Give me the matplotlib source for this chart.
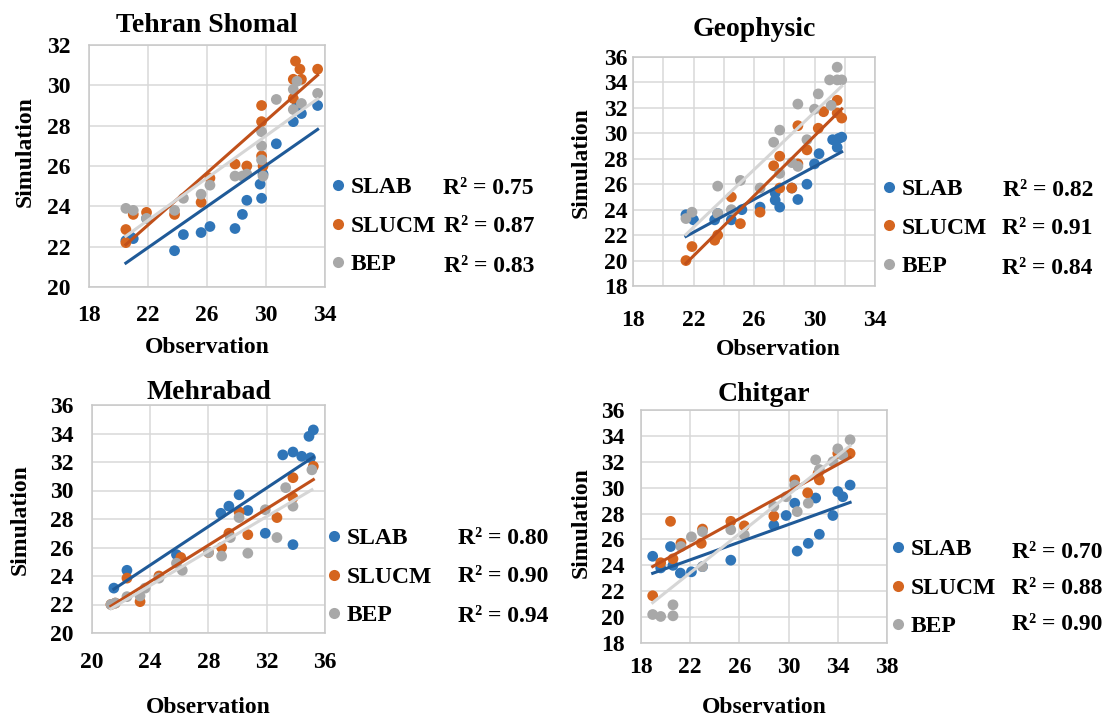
import matplotlib.pyplot as plt
import numpy as np
from matplotlib.lines import Line2D

W, H = 1107, 717
plt.rcParams['font.family'] = ['Liberation Serif', 'DejaVu Serif']
plt.rcParams['font.weight'] = 'bold'

series = ['SLAB', 'SLUCM', 'BEP']
dot_colors = ['#2F75B8', '#D5651F', '#A8A8A8']
line_colors = ['#1F5A98', '#C0501A', '#D6D6D6']

# Tehran Shomal
ts_slab_x = [20.5, 20.8, 21.0, 21.9, 23.8, 24.4, 25.6, 26.2, 27.9, 28.4, 28.7, 29.6, 29.7, 29.8, 30.7, 31.85, 32.1, 32.4, 33.5]
ts_slab_y = [22.3, 22.5, 22.4, 23.4, 21.8, 22.6, 22.7, 23.0, 22.9, 23.6, 24.3, 25.1, 24.4, 25.6, 27.1, 28.2, 29.0, 28.6, 29.0]
ts_slucm_x = [20.5, 20.5, 21.0, 21.9, 23.8, 25.6, 26.2, 27.9, 28.7, 29.7, 29.7, 29.7, 29.8, 31.85, 32.0, 32.3, 32.4, 31.85, 33.5]
ts_slucm_y = [22.85, 22.2, 23.6, 23.7, 23.6, 24.2, 25.4, 26.1, 26.0, 29.0, 28.2, 26.5, 26.0, 30.3, 31.2, 30.8, 30.3, 29.35, 30.8]
ts_bep_x = [20.5, 21.0, 21.9, 23.8, 24.4, 25.6, 26.2, 27.9, 28.4, 28.7, 29.7, 29.7, 29.7, 29.8, 30.7, 31.85, 32.1, 32.4, 33.5, 31.85]
ts_bep_y = [23.9, 23.8, 23.4, 23.8, 24.4, 24.6, 25.05, 25.5, 25.5, 25.6, 27.0, 27.7, 26.3, 25.5, 29.3, 29.8, 30.2, 29.1, 29.6, 28.8]

# Geophysic
gp_slab_x = [21.5, 22.0, 23.4, 23.6, 24.5, 25.2, 26.4, 27.4, 27.4, 27.7, 28.5, 28.9, 29.5, 30.0, 30.3, 31.5, 31.6, 31.8, 31.2]
gp_slab_y = [23.6, 23.2, 23.2, 23.7, 23.2, 24.0, 24.2, 25.3, 24.75, 24.2, 25.7, 24.8, 26.0, 27.6, 28.4, 28.9, 29.6, 29.7, 29.5]
gp_slucm_x = [21.5, 21.9, 23.4, 23.6, 24.5, 25.1, 26.4, 27.3, 27.7, 27.7, 28.5, 28.9, 28.9, 29.5, 30.25, 30.6, 31.5, 31.5, 31.8]
gp_slucm_y = [20.0, 21.1, 21.6, 22.0, 25.0, 22.9, 23.8, 27.45, 28.2, 25.7, 25.7, 30.6, 27.6, 28.7, 30.4, 31.7, 32.6, 31.6, 31.2]
gp_bep_x = [21.5, 21.9, 23.6, 23.6, 24.5, 25.1, 26.4, 27.3, 27.7, 27.7, 28.5, 28.9, 28.9, 29.5, 30.25, 30.0, 31.5, 31.5, 31.0, 31.8, 31.1]
gp_bep_y = [23.3, 23.8, 25.85, 23.7, 24.0, 26.3, 25.7, 29.3, 30.25, 26.85, 27.7, 32.3, 27.4, 29.5, 33.1, 31.9, 35.2, 34.2, 34.2, 34.2, 32.2]

# Mehrabad
mh_slab_x = [21.5, 22.4, 25.8, 28.85, 29.4, 30.1, 30.7, 31.9, 33.1, 33.8, 33.8, 34.4, 35.0, 34.9, 35.2]
mh_slab_y = [23.15, 24.4, 25.5, 28.4, 28.9, 29.7, 28.6, 27.0, 32.5, 32.7, 26.2, 32.4, 32.3, 33.8, 34.25]
mh_slucm_x = [21.3, 21.6, 22.4, 23.3, 24.6, 26.1, 28.0, 28.9, 29.4, 30.1, 30.7, 32.7, 33.8, 33.8, 35.2]
mh_slucm_y = [22.0, 22.1, 23.85, 22.2, 24.0, 25.3, 25.65, 26.0, 27.0, 28.5, 26.9, 28.1, 29.5, 30.9, 31.7]
mh_bep_x = [21.3, 21.6, 22.4, 23.3, 23.65, 24.6, 25.8, 26.2, 28.0, 28.9, 29.5, 30.1, 30.7, 31.9, 32.7, 33.3, 33.8, 35.1]
mh_bep_y = [22.0, 22.1, 22.55, 22.6, 23.15, 23.85, 24.9, 24.4, 25.65, 25.4, 26.7, 28.1, 25.6, 28.65, 26.7, 30.2, 28.9, 31.45]

# Chitgar
cg_slab_x = [18.95, 19.6, 20.4, 20.6, 21.2, 22.1, 23.0, 25.3, 28.8, 29.8, 30.5, 30.7, 31.6, 32.5, 32.2, 33.6, 34.0, 34.4, 35.0]
cg_slab_y = [24.7, 23.8, 25.45, 24.0, 23.4, 23.5, 23.9, 24.4, 27.1, 27.85, 28.8, 25.1, 25.7, 26.4, 29.2, 27.85, 29.7, 29.3, 30.2]
cg_slucm_x = [18.95, 19.6, 20.4, 20.6, 21.25, 22.9, 23.0, 25.3, 26.4, 28.8, 30.5, 31.55, 32.4, 32.5, 34.0, 35.0]
cg_slucm_y = [21.65, 24.2, 27.4, 24.5, 25.7, 25.7, 26.8, 27.4, 27.05, 27.8, 30.6, 29.6, 31.1, 30.6, 32.65, 32.65]
cg_bep_x = [18.95, 19.6, 20.6, 20.6, 21.25, 22.1, 23.0, 23.0, 25.3, 26.4, 28.8, 29.8, 30.5, 30.7, 31.6, 32.2, 32.5, 33.6, 34.0, 34.4, 35.0]
cg_bep_y = [20.2, 20.05, 20.1, 20.95, 25.45, 26.2, 26.6, 23.9, 26.75, 26.35, 28.55, 29.3, 30.2, 28.15, 28.8, 32.15, 31.4, 32.0, 33.0, 32.5, 33.7]

titles = ['Tehran Shomal', 'Geophysic', 'Mehrabad', 'Chitgar']
r2_values = [[0.75, 0.87, 0.83], [0.82, 0.91, 0.84], [0.80, 0.90, 0.94], [0.70, 0.88, 0.90]]
data = [
    [(ts_slab_x, ts_slab_y), (ts_slucm_x, ts_slucm_y), (ts_bep_x, ts_bep_y)],
    [(gp_slab_x, gp_slab_y), (gp_slucm_x, gp_slucm_y), (gp_bep_x, gp_bep_y)],
    [(mh_slab_x, mh_slab_y), (mh_slucm_x, mh_slucm_y), (mh_bep_x, mh_bep_y)],
    [(cg_slab_x, cg_slab_y), (cg_slucm_x, cg_slucm_y), (cg_bep_x, cg_bep_y)],
]

# layout in pixels: axes box, limits, grid steps, label spots, legend spots
panels = [
    dict(box=(89, 45, 325, 287), xlim=(18, 34), ylim=(20, 32), xgrid=4, title_pad=9,
         xlab=(0.5, -0.252), ylab=(-0.271, 0.558), xpad=13, ypad=13,
         leg=(331, 226), r2x=534, rows=(188, 226, 266)),
    dict(box=(633, 57, 875, 286), xlim=(18, 34), ylim=(18, 36), xgrid=2, title_pad=15,
         xlab=(0.6, -0.279), ylab=(-0.215, 0.541), xpad=17, ypad=4,
         leg=(882, 228), r2x=1093, rows=(190, 229, 269)),
    dict(box=(92, 405, 325, 633), xlim=(20, 36), ylim=(20, 36), xgrid=4, title_pad=4,
         xlab=(0.5, -0.325), ylab=(-0.309, 0.496), xpad=14, ypad=13,
         leg=(327, 577), r2x=548, rows=(538, 577, 617)),
    dict(box=(641, 410, 887, 643), xlim=(18, 38), ylim=(18, 36), xgrid=4, title_pad=6.5,
         xlab=(0.5, -0.275), ylab=(-0.244, 0.515), xpad=10, ypad=12,
         leg=(891, 588), r2x=1102, rows=(553, 588, 624)),
]

fig = plt.figure(figsize=(W / 100, H / 100), dpi=100)

for title, sets, r2, p in zip(titles, data, r2_values, panels):
    x0, y0, x1, y1 = p['box']
    ax = fig.add_axes([x0 / W, 1 - y1 / H, (x1 - x0) / W, (y1 - y0) / H])
    for (xs, ys), dc in zip(sets, dot_colors):
        ax.scatter(xs, ys, s=60, color=dc, edgecolors='none', zorder=2)
    for (xs, ys), lc in zip(sets, line_colors):
        xs = np.array(xs); ys = np.array(ys)
        k, b = np.polyfit(xs, ys, 1)
        xx = np.array([xs.min(), xs.max()])
        ax.plot(xx, k * xx + b, color=lc, linewidth=2.2, zorder=3)
    xmin, xmax = p['xlim']; ymin, ymax = p['ylim']
    ax.set_xlim(xmin, xmax); ax.set_ylim(ymin, ymax)
    ax.set_xticks(np.arange(xmin, xmax + 1, 4))
    ax.set_xticks(np.arange(xmin, xmax + 1, p['xgrid']), minor=True)
    ax.set_yticks(np.arange(ymin, ymax + 1, 2))
    ax.grid(True, which='both', color='#D9D9D9', linewidth=1.1, zorder=0)
    ax.set_axisbelow(True)
    for s in ax.spines.values():
        s.set_color('#C8C8C8'); s.set_linewidth(1.1)
    ax.tick_params(which='both', length=0, labelsize=17)
    ax.tick_params(axis='x', pad=p['xpad'])
    ax.tick_params(axis='y', pad=p['ypad'])
    ax.set_title(title, fontsize=20, fontweight='bold', pad=p['title_pad'])
    ax.set_xlabel('Observation', fontsize=17, fontweight='bold', va='center')
    ax.set_ylabel('Simulation', fontsize=17, fontweight='bold', va='center')
    ax.xaxis.set_label_coords(*p['xlab'])
    ax.yaxis.set_label_coords(*p['ylab'])

    handles = [Line2D([], [], marker='o', linestyle='none', markersize=8, color=c, markeredgewidth=0)
               for c in dot_colors]
    lx, ly = p['leg']
    ax.legend(handles, series, loc='center left', bbox_to_anchor=(lx / W, 1 - ly / H),
              bbox_transform=fig.transFigure, frameon=False, fontsize=17, handlelength=0.6,
              handletextpad=0.25, borderpad=0, borderaxespad=0, labelspacing=0.72)
    for val, ry in zip(r2, p['rows']):
        fig.text(p['r2x'] / W, 1 - ry / H, f'R² = {val:.2f}', ha='right', va='center',
                 fontsize=17, fontweight='bold')

fig.savefig('out.png', dpi=100)
